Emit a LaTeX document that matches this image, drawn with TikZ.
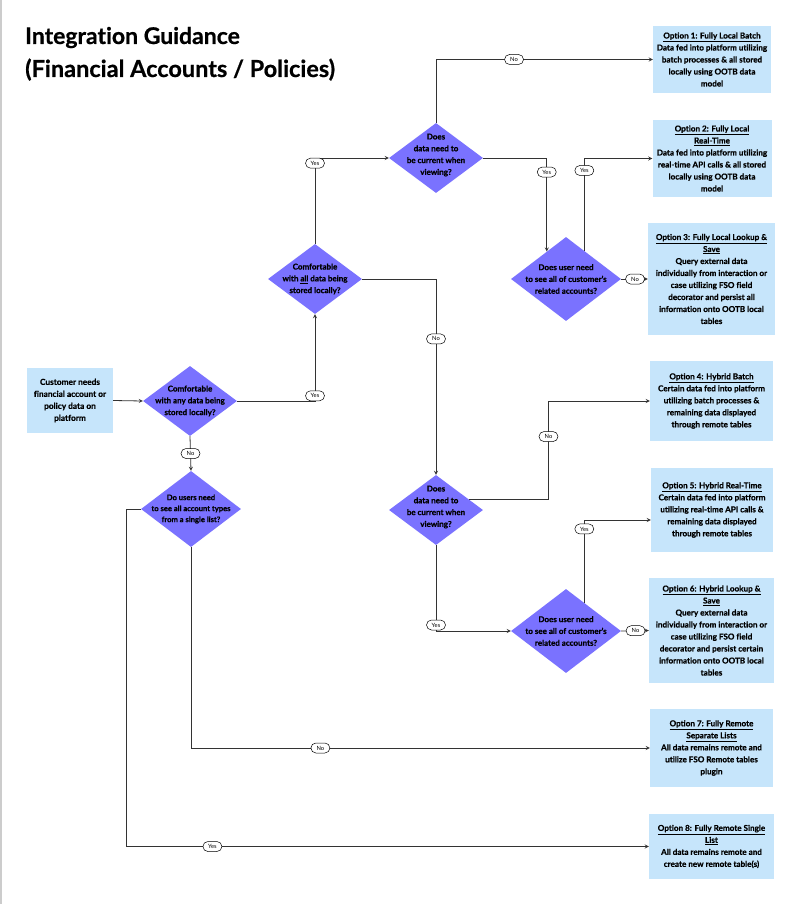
\documentclass[tikz,border=0pt]{standalone}
\usepackage{fontspec}
\setmainfont{Lato}[Ligatures=NoCommon, BoldFeatures={FakeBold=0.6}]
\usetikzlibrary{shapes.geometric,calc}
\definecolor{choice}{RGB}{122,114,255}
\definecolor{optfill}{RGB}{198,229,251}
\begin{document}
\begin{tikzpicture}[x=1pt, y=-1pt, >=stealth, font=\bfseries,
    line/.style={draw=black!80, line width=0.8pt},
    decision/.style 2 args={diamond, fill=choice, inner sep=0pt, minimum width=#1, minimum height=#2},
    question/.style={align=center, font=\fontsize{8}{11.8}\selectfont\bfseries},
    optbox/.style 2 args={fill=optfill, inner sep=0pt, minimum width=#1, minimum height=#2, align=center, font=\fontsize{8.1}{12}\selectfont\bfseries},
    pill/.style={draw=black, fill=white, line width=0.5pt, rounded corners=5pt, inner sep=0pt, minimum width=19pt, minimum height=10pt, font=\fontsize{5.8}{6}\selectfont\mdseries}]
    \fill[white] (0,0) rectangle (800,904);
    \useasboundingbox (0,0) rectangle (800,904);
    \draw[black!20, line width=1.5pt] (0.75,0) -- (0.75,904);
    % title
    \node[anchor=base west, inner sep=0pt, font=\fontsize{23}{28}\selectfont\bfseries] (title1) at (25,44) {Integration Guidance};
    \node[anchor=base west, inner sep=0pt, font=\fontsize{23.5}{28}\selectfont\bfseries] (title2) at (25,77) {(Financial Accounts / Policies)};
    % start and questions
    \node[optbox={86pt}{65pt}, font=\fontsize{8.3}{12}\selectfont\bfseries] (start) at (70,400.5) {Customer needs\\financial account or\\policy data on\\platform};
    \node[decision={94pt}{70pt}] (anyLocal) at (190,401) {};
    \node[question] at (anyLocal) {Comfortable\\with any data being\\stored locally?};
    \node[decision={94pt}{70pt}] (allLocal) at (315,279) {};
    \node[question] at (allLocal) {Comfortable\\with \underline{all} data being\\stored locally?};
    \node[decision={94pt}{70pt}] (currentA) at (436,158) {};
    \node[question] at ($(currentA)+(0,-3)$) {Does\\data need to\\be current when\\viewing?};
    \node[decision={110pt}{84pt}] (relatedA) at (566,279) {};
    \node[question] at (relatedA) {Does user need\\to see all of customer’s\\related accounts?};
    \node[decision={94pt}{70pt}] (currentB) at (436,510) {};
    \node[question] at ($(currentB)+(0,-3)$) {Does\\data need to\\be current when\\viewing?};
    \node[decision={110pt}{84pt}] (relatedB) at (566,631) {};
    \node[question] at (relatedB) {Does user need\\to see all of customer’s\\related accounts?};
    \node[decision={100pt}{76pt}] (singleList) at (191,509) {};
    \node[question, font=\fontsize{7.6}{11}\selectfont\bfseries] at (singleList) {Do users need\\to see all account types\\from a single list?};
    % options
    \node[optbox={118pt}{67pt}] (opt1) at (712,59.5) {\underline{Option 1: Fully Local Batch}\\Data fed into platform utilizing\\batch processes \& all stored\\locally using OOTB data\\model};
    \node[optbox={119pt}{77pt}] (opt2) at (712,158.5) {\underline{Option 2: Fully Local}\\\underline{Real-Time}\\Data fed into platform utilizing\\real-time API calls \& all stored\\locally using OOTB data\\model};
    \node[optbox={127pt}{112pt}] (opt3) at (711.5,279) {\underline{Option 3: Fully Local Lookup \&}\\\underline{Save}\\Query external data\\individually from interaction or\\case utilizing FSO field\\decorator and persist all\\information onto OOTB local\\tables};
    \node[optbox={123pt}{80pt}] (opt4) at (711.5,401) {\underline{Option 4: Hybrid Batch}\\Certain data fed into platform\\utilizing batch processes \&\\remaining data displayed\\through remote tables};
    \node[optbox={122pt}{84pt}] (opt5) at (712,510) {\underline{Option 5: Hybrid Real-Time}\\Certain data fed into platform\\utilizing real-time API calls \&\\remaining data displayed\\through remote tables};
    \node[optbox={125pt}{105pt}] (opt6) at (711.5,630.5) {\underline{Option 6: Hybrid Lookup \&}\\\underline{Save}\\Query external data\\individually from interaction or\\case utilizing FSO field\\decorator and persist certain\\information onto OOTB local\\tables};
    \node[optbox={123pt}{78pt}] (opt7) at (711.5,748) {\underline{Option 7: Fully Remote}\\\underline{Separate Lists}\\All data remains remote and\\utilize FSO Remote tables\\plugin};
    \node[optbox={125pt}{65pt}] (opt8) at (711.5,846.5) {\underline{Option 8: Fully Remote Single}\\\underline{List}\\All data remains remote and\\create new remote table(s)};
    % connectors
    \draw[line,->] (start.east) -- (anyLocal.west);
    \draw[line,->] (anyLocal.east) -| (allLocal.south) node[pill, pos=0.53] {Yes};
    \draw[line,->] (allLocal.north) |- (currentA.west) node[pill, pos=0.47] {Yes};
    \draw[line,->] (currentA.north) |- (opt1.west) node[pill, pos=0.68] {No};
    \draw[line,->] (currentA.east) -| (relatedA.125) node[pill, pos=0.575] {Yes};
    \draw[line,->] (relatedA.57) |- (opt2.west) node[pill, pos=0.435] {Yes};
    \draw[line,->] (relatedA.east) -- (opt3.west) node[pill, pos=0.52] {No};
    \draw[line,->] (allLocal.east) -| (currentB.north) node[pill, pos=0.653] {No};
    \draw[line,->] (currentB.17) -- ++(79,0) |- (opt4.west) node[pill, pos=0.32] {No};
    \draw[line,->] (currentB.south) |- (relatedB.west) node[pill, pos=0.465] {Yes};
    \draw[line,->] (relatedB.57) |- ([yshift=-10pt]opt5.west) node[pill, pos=0.446] {Yes};
    \draw[line,->] (relatedB.east) -- (opt6.west) node[pill, pos=0.52] {No};
    \draw[line,->] (anyLocal.south) -- (singleList.north) node[pill, pos=0.5] {No};
    \draw[line,->] (singleList.south) |- (opt7.west) node[pill, pos=0.641] {No};
    \draw[line,->] (singleList.west) -- ++(-14,0) |- (opt8.west) node[pill, pos=0.582] {Yes};
\end{tikzpicture}
\end{document}
